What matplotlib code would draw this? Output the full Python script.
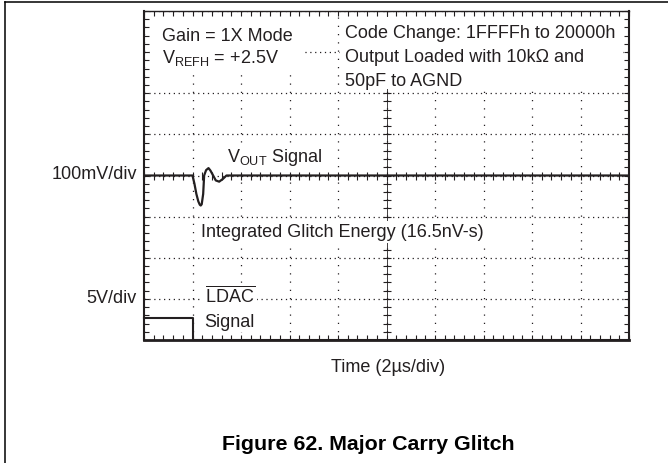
import numpy as np
import matplotlib
matplotlib.use('Agg')
import matplotlib.pyplot as plt
from matplotlib.lines import Line2D
from matplotlib.patches import Rectangle

plt.rcParams['font.family'] = ['Liberation Sans', 'DejaVu Sans']
plt.rcParams['mathtext.fontset'] = 'custom'
plt.rcParams['mathtext.rm'] = 'Liberation Sans'
plt.rcParams['mathtext.default'] = 'regular'

# scope trace, in divisions (x: 10 div of 2us, y: 8 div, centre = 0)
vout_t = [0, 1.00, 1.04, 1.08, 1.12, 1.15, 1.17, 1.19, 1.22, 1.24, 1.28, 1.33, 1.37, 1.43, 1.48, 1.55, 1.63, 1.70, 10]
vout_v = [0, 0, -0.20, -0.45, -0.63, -0.71, -0.73, -0.70, -0.45, 0, 0.13, 0.18, 0.12, -0.01, -0.12, -0.15, -0.08, 0, 0]

ldac_t = [0, 1.0, 1.0, 10]
ldac_v = [-3.47, -3.47, -4, -4]

ink = '#231f20'

fig = plt.figure(figsize=(6.68, 4.64), dpi=100)
ax = fig.add_axes([144 / 668, 1 - 341 / 464, 485 / 668, 329 / 464])
ax.set_xlim(0, 10)
ax.set_ylim(-4, 4)
ax.set_axisbelow(True)

ax.set_xticks(np.arange(0, 11, 1))
ax.set_yticks(np.arange(-4, 5, 1))
ax.set_xticks(np.arange(0, 10.01, 0.2), minor=True)
ax.set_yticks(np.arange(-4, 4.01, 0.2), minor=True)
ax.tick_params(which='both', direction='in', length=3.6, width=0.8, color=ink,
               top=True, right=True, labelbottom=False, labelleft=False)
ax.xaxis.grid(True, which='major', color=ink, lw=0.9, linestyle=(0, (1, 5.6)))
ax.yaxis.grid(True, which='major', color=ink, lw=0.9, linestyle=(0, (1, 2.9)))

for side, w in [('left', 1.5), ('right', 1.5), ('top', 1.0), ('bottom', 2.0)]:
    ax.spines[side].set_linewidth(w)
    ax.spines[side].set_color(ink)

# centre axis with cross ticks (kept under the white note areas)
ax.axvline(5, color=ink, lw=0.6, zorder=0.7)
ax.plot(np.arange(0, 10.01, 0.2), np.zeros(51), ls='none', marker='|', ms=6, mew=0.8, color=ink, zorder=0.7)
ax.plot(np.full(41, 5.0), np.arange(-4, 4.01, 0.2), ls='none', marker='_', ms=6, mew=0.8, color=ink, zorder=0.7)

ax.plot(vout_t, vout_v, color=ink, lw=1.6, solid_joinstyle='round', zorder=3)
ax.plot(ldac_t, ldac_v, color=ink, lw=1.5, clip_on=False, zorder=3)

# white areas behind the notes
ax.add_patch(Rectangle((0.012, 0.809), 0.32, 0.173, transform=ax.transAxes, fc='white', ec='none', zorder=1))
ax.add_patch(Rectangle((0.404, 0.763), 0.584, 0.219, transform=ax.transAxes, fc='white', ec='none', zorder=1))

fs = 13
box = dict(fc='white', ec='none', pad=1.5)
ax.text(0.365, 3.30, 'Gain = 1X Mode', fontsize=fs, color=ink, va='baseline', zorder=4)
ax.text(0.365, 2.75, 'V$_{REFH}$ = +2.5V', fontsize=fs, color=ink, va='baseline', zorder=4)
ax.text(4.14, 3.36, 'Code Change: 1FFFFh to 20000h', fontsize=fs, color=ink, va='baseline', zorder=4)
ax.text(4.14, 2.78, 'Output Loaded with 10k\u03a9 and', fontsize=fs, color=ink, va='baseline', zorder=4)
ax.text(4.14, 2.20, '50pF to AGND', fontsize=fs, color=ink, va='baseline', zorder=4)
ax.text(1.72, 0.36, 'V$_{OUT}$ Signal', fontsize=fs, color=ink, va='baseline', bbox=box, zorder=4)
ax.text(1.175, -1.48, 'Integrated Glitch Energy (16.5nV-s)', fontsize=fs, color=ink, va='baseline', bbox=box, zorder=4)
ax.text(1.26, -3.07, r'$\overline{LDAC}$', fontsize=fs, color=ink, va='baseline', bbox=box, zorder=4)
ax.text(1.24, -3.65, 'Signal', fontsize=fs, color=ink, va='baseline', bbox=box, zorder=4)

ax.text(-0.144, 0.04, '100mV/div', fontsize=fs, color=ink, ha='right', va='center', clip_on=False)
ax.text(-0.144, -2.96, '5V/div', fontsize=fs, color=ink, ha='right', va='center', clip_on=False)
ax.text(5.03, -4.64, 'Time (2\u00b5s/div)', fontsize=fs, color=ink, ha='center', va='center', clip_on=False)

fig.text(368 / 668, 1 - 445 / 464, 'Figure 62. Major Carry Glitch', fontsize=15.4, fontweight='bold',
         color='black', ha='center', va='center')

# page frame (left and top edges)
fig.add_artist(Line2D([5 / 668, 5 / 668], [0, 1 - 3 / 464], transform=fig.transFigure, color='black', lw=1.1))
fig.add_artist(Line2D([5 / 668, 1], [1 - 3 / 464, 1 - 3 / 464], transform=fig.transFigure, color='black', lw=1.1))

fig.savefig('out.png', dpi=100)
